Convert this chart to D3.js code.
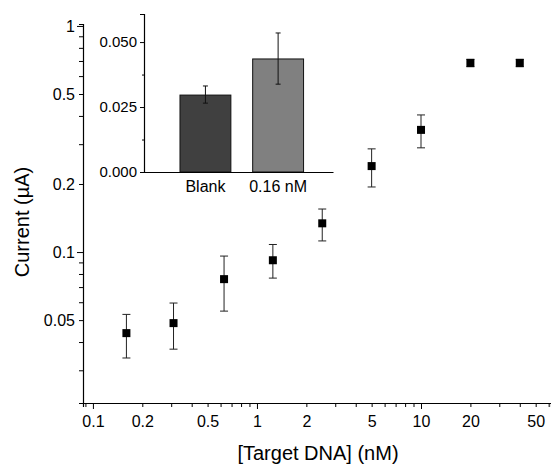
<!DOCTYPE html>
<html>
<head>
<meta charset="utf-8">
<title>Current vs target DNA</title>
<style>
  body { margin: 0; background: #fff; }
  text { font-family: "Liberation Sans", Arial, sans-serif; fill: #000; }
  .domain { stroke: #000; stroke-width: 1.2px; }
  .tick line { stroke: #000; stroke-width: 1px; }
</style>
</head>
<body>
<script src="https://d3js.org/d3.v7.min.js"></script>
<script>
// main series: concentration (nM), current (uA) with error bar ends
var conc   = [0.16, 0.31, 0.63, 1.25, 2.5, 5, 10, 20, 40];
var current = [0.0438, 0.0485, 0.0759, 0.092, 0.134, 0.240, 0.347, 0.686, 0.686];
var errHi  = [0.053, 0.0595, 0.096, 0.108, 0.155, 0.286, 0.404, 0.712, 0.712];
var errLo  = [0.034, 0.0372, 0.0548, 0.0767, 0.112, 0.194, 0.289, 0.660, 0.660];

// inset bars
var barCats  = ["Blank", "0.16 nM"];
var barVals  = [0.0296, 0.0435];
var barErrHi = [0.0331, 0.0535];
var barErrLo = [0.0265, 0.0338];
var barColors = ["#404040", "#808080"];

var xTickLabels = [0.1, 0.2, 0.5, 1, 2, 5, 10, 20, 50];
var yTickLabels = [0.05, 0.1, 0.2, 0.5, 1];
var insetTicks = [0, 0.025, 0.05];

var width = 551, height = 466;

var svg = d3.select("body").append("svg")
    .attr("width", width)
    .attr("height", height);

var x = d3.scaleLog().domain([0.087, 62]).range([83, 551]);
var y = d3.scaleLog().domain([0.0215, 1.02]).range([403, 24]);

function logTicks(lo, hi) {
    var out = [];
    for (var e = -3; e <= 3; e++) {
        for (var m = 1; m <= 9; m++) {
            var v = +(m * Math.pow(10, e)).toPrecision(3);
            if (v >= lo && v <= hi) out.push(v);
        }
    }
    return out;
}
function isDecade(v) {
    var l = Math.log10(v);
    return Math.abs(l - Math.round(l)) < 1e-6;
}

// x axis
var xAxis = svg.append("g")
    .attr("transform", "translate(0,403)")
    .call(d3.axisBottom(x)
        .tickValues(logTicks(0.087, 62))
        .tickSizeOuter(0)
        .tickSize(4)
        .tickPadding(9)
        .tickFormat(function (d) { return xTickLabels.indexOf(d) >= 0 ? d3.format("~g")(d) : ""; }));
xAxis.selectAll(".tick line").attr("y2", function (d) { return isDecade(d) ? 6 : 4; });
xAxis.selectAll("text").style("font-size", "16px");

// y axis
var yAxis = svg.append("g")
    .attr("transform", "translate(83,0)")
    .call(d3.axisLeft(y)
        .tickValues(logTicks(0.0215, 1.02))
        .tickSizeOuter(0)
        .tickSize(4)
        .tickPadding(4)
        .tickFormat(function (d) { return yTickLabels.indexOf(d) >= 0 ? d3.format("~g")(d) : ""; }));
yAxis.selectAll(".tick line").attr("x2", function (d) { return isDecade(d) ? -6 : -4; });
yAxis.selectAll("text").style("font-size", "16px");

// axis titles
svg.append("text")
    .attr("x", 318)
    .attr("y", 460)
    .attr("text-anchor", "middle")
    .style("font-size", "20px")
    .text("[Target DNA] (nM)");

svg.append("text")
    .attr("transform", "translate(29,222) rotate(-90)")
    .attr("text-anchor", "middle")
    .style("font-size", "20px")
    .text("Current (\u00b5A)");

// error bars
var pts = svg.append("g");
conc.forEach(function (c, i) {
    var cx = x(c);
    pts.append("line")
        .attr("x1", cx).attr("x2", cx)
        .attr("y1", y(errLo[i])).attr("y2", y(errHi[i]))
        .attr("stroke", "#222").attr("stroke-width", 1);
    [errLo[i], errHi[i]].forEach(function (v) {
        pts.append("line")
            .attr("x1", cx - 4).attr("x2", cx + 4)
            .attr("y1", y(v)).attr("y2", y(v))
            .attr("stroke", "#222").attr("stroke-width", 1);
    });
});
pts.selectAll("rect")
    .data(conc)
    .enter().append("rect")
    .attr("x", function (d) { return x(d) - 4; })
    .attr("y", function (d, i) { return y(current[i]) - 4; })
    .attr("width", 8)
    .attr("height", 8)
    .attr("fill", "#000");

// inset
var ix = d3.scaleBand().domain(barCats).range([144, 333])
    .paddingInner(0.3).paddingOuter(0.45).align(0.55);
var iy = d3.scaleLinear().domain([0, 0.0608]).range([172, 14]);

var inset = svg.append("g");

inset.selectAll("rect")
    .data(barCats)
    .enter().append("rect")
    .attr("x", function (d) { return ix(d); })
    .attr("y", function (d, i) { return iy(barVals[i]); })
    .attr("width", ix.bandwidth())
    .attr("height", function (d, i) { return iy(0) - iy(barVals[i]); })
    .attr("fill", function (d, i) { return barColors[i]; })
    .attr("stroke", "#111")
    .attr("stroke-width", 1);

barCats.forEach(function (c, i) {
    var cx = ix(c) + ix.bandwidth() / 2;
    inset.append("line")
        .attr("x1", cx).attr("x2", cx)
        .attr("y1", iy(barErrLo[i])).attr("y2", iy(barErrHi[i]))
        .attr("stroke", "#111").attr("stroke-width", 1);
    [barErrLo[i], barErrHi[i]].forEach(function (v) {
        inset.append("line")
            .attr("x1", cx - 2.5).attr("x2", cx + 2.5)
            .attr("y1", iy(v)).attr("y2", iy(v))
            .attr("stroke", "#111").attr("stroke-width", 1);
    });
});

var iyAxis = inset.append("g")
    .attr("transform", "translate(144,0)")
    .call(d3.axisLeft(iy)
        .tickValues([0, 0.0125, 0.025, 0.0375, 0.05])
        .tickSizeOuter(0)
        .tickSize(4)
        .tickPadding(3)
        .tickFormat(function (d) { return insetTicks.indexOf(d) >= 0 ? d3.format(".3f")(d) : ""; }));
iyAxis.selectAll(".tick line").attr("x2", function (d) { return insetTicks.indexOf(d) >= 0 ? -4 : -2; });
iyAxis.selectAll("text").style("font-size", "15px");

var ixAxis = inset.append("g")
    .attr("transform", "translate(0,172)")
    .call(d3.axisBottom(ix).tickSize(0).tickSizeOuter(0).tickPadding(9));
ixAxis.selectAll("text").style("font-size", "16px");
</script>
</body>
</html>
